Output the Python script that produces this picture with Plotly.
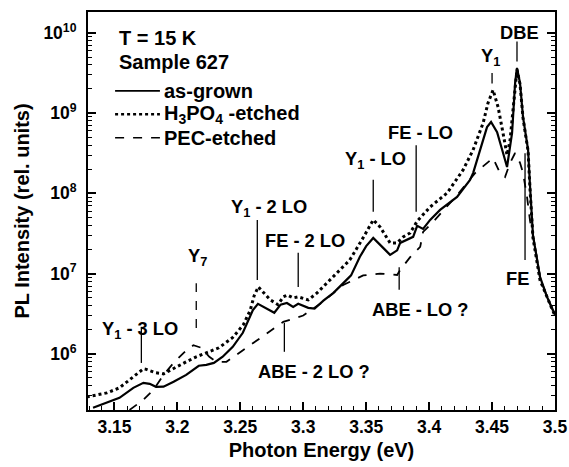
import numpy as np
import plotly.graph_objects as go

# ---------------- data ----------------
asgrown_x = [3.133, 3.144, 3.154, 3.165, 3.173, 3.178, 3.183, 3.189, 3.197, 3.207, 3.217, 3.223, 3.229, 3.236,
             3.244, 3.252, 3.257, 3.260, 3.264, 3.269, 3.274, 3.277, 3.282, 3.287, 3.292, 3.296, 3.304, 3.309,
             3.316, 3.324, 3.332, 3.338, 3.345, 3.350, 3.3556, 3.360, 3.3635, 3.369, 3.3746, 3.377, 3.3825,
             3.3873, 3.3905, 3.3952, 3.4008, 3.4087, 3.4222, 3.4325, 3.435, 3.4429, 3.446, 3.4492, 3.454,
             3.4587, 3.4619, 3.4659, 3.4683, 3.4698, 3.4722, 3.4746, 3.477, 3.4786, 3.4802, 3.4825, 3.4881,
             3.4937, 3.4984, 3.5]
asgrown_y = [2.13e5, 2.45e5, 2.83e5, 3.77e5, 4.35e5, 4.23e5, 3.88e5, 3.9e5, 4.48e5, 5.47e5, 7.1e5, 7.3e5, 7.7e5, 9.2e5,
             1.22e6, 1.83e6, 2.7e6, 3.5e6, 4.2e6, 3.8e6, 3.4e6, 3.25e6, 4.1e6, 4.3e6, 3.85e6, 4.2e6, 3.74e6, 3.65e6,
             4.6e6, 5.75e6, 7.66e6, 9.5e6, 1.62e7, 2.2e7, 2.78e7, 2.4e7, 2.09e7, 1.71e7, 1.95e7, 2.41e7, 2.63e7,
             2.87e7, 3.93e7, 3.6e7, 4.67e7, 6.21e7, 9.02e7, 1.47e8, 1.8e8, 4.6e8, 6.7e8, 7.75e8, 5.8e8,
             3.2e8, 2.13e8, 5.65e8, 2.37e9, 3.65e9, 2.37e9, 8.9e8, 5.0e8, 3.5e8, 1.2e8, 3.0e7, 9.1e6,
             5.1e6, 3.5e6, 3.06e6]

h3po4_x = [3.128, 3.144, 3.154, 3.165, 3.173, 3.1754, 3.183, 3.189, 3.199, 3.207, 3.215, 3.223, 3.233, 3.244,
           3.2524, 3.2579, 3.261, 3.2643, 3.269, 3.2738, 3.280, 3.2841, 3.2873, 3.2921, 3.296, 3.304, 3.311,
           3.324, 3.337, 3.348, 3.3556, 3.361, 3.369, 3.3746, 3.3794, 3.3849, 3.3905, 3.4008, 3.4143, 3.427,
           3.4349, 3.4429, 3.4468, 3.4508, 3.4548, 3.4587, 3.4619, 3.4643, 3.4683, 3.4698, 3.4722, 3.4746,
           3.477, 3.4786, 3.4802, 3.4825, 3.4881, 3.4937, 3.4984, 3.5]
h3po4_y = [2.9e5, 3.26e5, 3.77e5, 5.17e5, 6.51e5, 6.4e5, 5.8e5, 5.63e5, 6.89e5, 7.95e5, 9.18e5, 1.03e6, 1.19e6, 1.6e6,
           2.3e6, 3.5e6, 5.3e6, 6.83e6, 5.75e6, 4.7e6, 4.1e6, 5.13e6, 5.4e6, 4.98e6, 5.13e6, 4.7e6, 5.75e6,
           9.1e6, 1.48e7, 2.87e7, 4.67e7, 3.82e7, 2.41e7, 2.41e7, 2.87e7, 3.21e7, 4.5e7, 6.77e7, 1.01e8, 1.96e8,
           3.47e8, 7.53e8, 1.34e9, 1.94e9, 1.19e9, 5.65e8, 3.0e8, 4.6e8, 2.3e9, 3.5e9, 2.3e9, 8.7e8,
           4.9e8, 3.4e8, 1.1e8, 2.8e7, 8.3e6, 5.0e6, 3.4e6, 3.0e6]

pec_x = [3.162, 3.173, 3.181, 3.189, 3.197, 3.205, 3.2127, 3.219, 3.2254, 3.231, 3.239, 3.249, 3.2603, 3.2841,
         3.300, 3.316, 3.3317, 3.3476, 3.361, 3.3746, 3.377, 3.3849, 3.3929, 3.3952, 3.4032, 3.4222, 3.4365,
         3.4484, 3.4508, 3.4563, 3.4603, 3.4643, 3.4683, 3.4722, 3.4746, 3.4778, 3.4802, 3.4825, 3.4881,
         3.4937, 3.4984, 3.5]
pec_y = [2.0e5, 2.67e5, 3.56e5, 5.47e5, 7.7e5, 1.03e6, 1.28e6, 1.19e6, 9.2e5, 7.95e5, 7.95e5, 1.03e6, 1.37e6, 2.5e6,
         3.0e6, 4.5e6, 7.2e6, 9.5e6, 1.0e7, 9.6e6, 1.11e7, 1.6e7, 2.15e7, 3.3e7, 4.4e7, 9.5e7, 1.79e8,
         2.61e8, 2.76e8, 1.79e8, 1.6e8, 2.39e8, 3.18e8, 2.4e8, 1.8e8, 9.0e7, 4.5e7, 3.0e7, 9.0e6,
         5.1e6, 3.5e6, 3.0e6]

series_names = ["as-grown", "H<sub>3</sub>PO<sub>4</sub> -etched", "PEC-etched"]
series_dash = ["solid", "dot", "dash"]
series_width = [2.2, 3, 1.8]

# peak labels: text, text x, text y, marker x, marker top, marker bottom, marker dash
label_text = ["Y<sub>1</sub> - 3 LO", "Y<sub>7</sub>", "Y<sub>1</sub> - 2 LO", "FE - 2 LO", "ABE - 2 LO ?",
              "Y<sub>1</sub> - LO", "FE - LO", "ABE - LO ?", "Y<sub>1</sub>", "DBE", "FE"]
label_tx = [3.1706, 3.2159, 3.2730, 3.3016, 3.3087, 3.3570, 3.3930, 3.3930, 3.4484, 3.4714, 3.4706]
label_ty = [2.0e6, 1.6e7, 6.5e7, 2.6e7, 6.0e5, 2.6e8, 5.8e8, 3.6e6, 5.0e9, 1.02e10, 8.8e6]
mark_x = [3.1714, 3.2150, 3.2635, 3.2960, 3.2850, 3.3556, 3.3897, 3.3762, 3.4500, 3.4698, 3.4762]
mark_top = [2.17e6, 7.6e6, 4.67e7, 1.82e7, 2.43e6, 1.48e8, 3.98e8, 1.2e7, 3.16e9, 7.8e9, 3.16e8]
mark_bot = [7.7e5, 2.1e6, 8.3e6, 6.8e6, 1.06e6, 5.9e7, 5.9e7, 6.3e6, 2.34e9, 4.4e9, 1.48e7]
mark_dash = ["solid", "dash", "solid", "solid", "solid", "solid", "solid", "solid", "solid", "solid", "solid"]

x_ticks = [3.15, 3.2, 3.25, 3.3, 3.35, 3.4, 3.45, 3.5]
x_ticklabels = ["3.15", "3.2", "3.25", "3.3", "3.35", "3.4", "3.45", "3.5"]
y_ticks = [1e6, 1e7, 1e8, 1e9, 1e10]
y_ticklabels = ["10<sup>6</sup>", "10<sup>7</sup>", "10<sup>8</sup>", "10<sup>9</sup>", "10<sup>10</sup>"]
info_lines = ["T = 15 K", "Sample 627"]

FONT = "Liberation Sans"
X0, X1 = 3.129, 3.5
Y0, Y1 = 5.30, 10.26

fig = go.Figure()
for xs, ys, nm, ds, w in zip([asgrown_x, h3po4_x, pec_x], [asgrown_y, h3po4_y, pec_y],
                             series_names, series_dash, series_width):
    fig.add_trace(go.Scatter(x=xs, y=ys, mode="lines", name=nm, showlegend=False,
                             line=dict(color="black", width=w, dash=ds)))

for mx, mt, mb, md in zip(mark_x, mark_top, mark_bot, mark_dash):
    fig.add_trace(go.Scatter(x=[mx, mx], y=[mb, mt], mode="lines", showlegend=False, hoverinfo="skip",
                             line=dict(color="black", width=1.3, dash=md)))

for t, tx, ty in zip(label_text, label_tx, label_ty):
    fig.add_annotation(x=tx, y=np.log10(ty), xref="x", yref="y", text=t, showarrow=False,
                       font=dict(family=FONT, size=18.3, color="black", weight="bold"))

# header text
for i, t in enumerate(info_lines):
    fig.add_annotation(x=0.062, y=0.935 - 0.06 * i, xref="paper", yref="paper", xanchor="left",
                       yanchor="middle", text=t, showarrow=False,
                       font=dict(family=FONT, size=20, color="black", weight="bold"))

# manual legend: sample line + label
for i, (nm, ds, w) in enumerate(zip(series_names, series_dash, series_width)):
    ly = 0.802 - 0.059 * i
    fig.add_shape(type="line", xref="paper", yref="paper", x0=0.058, x1=0.154, y0=ly, y1=ly,
                  line=dict(color="black", width=w * 0.8, dash=ds))
    fig.add_annotation(x=0.158, y=ly, xref="paper", yref="paper", xanchor="left", yanchor="middle",
                       text=nm, showarrow=False,
                       font=dict(family=FONT, size=20, color="black", weight="bold"))

# tick positions
x_minor = [round(3.13 + 0.01 * k, 2) for k in range(0, 38)]
y_minor = [m * 10 ** e for e in range(5, 11) for m in range(2, 10)]

fig.update_xaxes(range=[X0, X1], tickmode="array", tickvals=x_ticks, ticktext=x_ticklabels,
                 ticks="inside", ticklen=8, tickwidth=1.5, tickcolor="black",
                 showgrid=False, zeroline=False, showline=True, linecolor="black", linewidth=2,
                 mirror=True, automargin=False,
                 minor=dict(ticks="inside", ticklen=4, tickmode="array", tickvals=x_minor,
                            tickcolor="black", tickwidth=1.2, showgrid=False),
                 tickfont=dict(family=FONT, size=17.5, color="black", weight="bold"),
                 title=dict(text="Photon Energy (eV)", standoff=7,
                            font=dict(family=FONT, size=20, color="black", weight="bold")))
fig.update_yaxes(type="log", range=[Y0, Y1], tickmode="array", tickvals=y_ticks, ticktext=y_ticklabels,
                 ticks="inside", ticklen=8, tickwidth=1.5, tickcolor="black", ticklabelstandoff=6,
                 showgrid=False, zeroline=False, showline=True, linecolor="black", linewidth=2,
                 mirror="allticks", automargin=False,
                 minor=dict(ticks="inside", ticklen=4, tickmode="array", tickvals=y_minor,
                            tickcolor="black", tickwidth=1.2, showgrid=False),
                 tickfont=dict(family=FONT, size=17.5, color="black", weight="bold"),
                 title=dict(text="PL Intensity (rel. units)", standoff=8,
                            font=dict(family=FONT, size=20, color="black", weight="bold")))

fig.update_layout(
    width=569, height=467,
    margin=dict(l=88, r=14, t=12, b=57, autoexpand=False),
    paper_bgcolor="white", plot_bgcolor="white",
    showlegend=False,
)

fig.write_html("out.html", config={"displayModeBar": False},
               post_script="document.body.style.margin='0px';")
